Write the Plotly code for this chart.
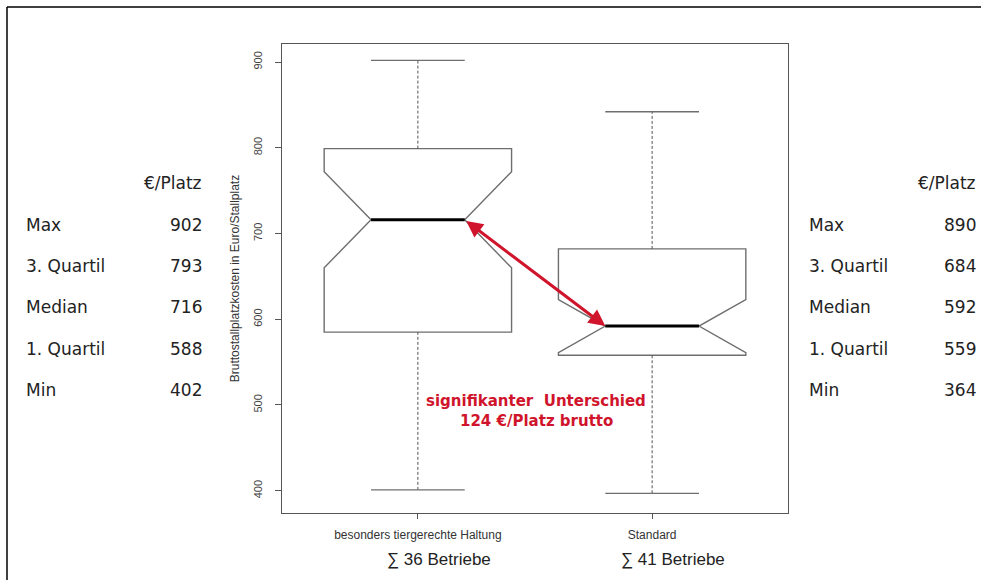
import plotly.graph_objects as go

# ---- data ----
groups = ["besonders tiergerechte Haltung", "Standard"]
group_pos = [1, 2]
n_betriebe = [36, 41]
lower_whisker = [401, 397]
q1 = [585, 558]
median = [716, 592]
q3 = [799, 682]
upper_whisker = [902, 842]
notch_span = [56, 31]

table_labels = ["Max", "3. Quartil", "Median", "1. Quartil", "Min"]
table_left = [902, 793, 716, 588, 402]
table_right = [890, 684, 592, 559, 364]
y_ticks = [400, 500, 600, 700, 800, 900]

BOX_W = 0.8
NOTCH_W = 0.25
CAP_HALF = BOX_W / 2 * (1 - 2 * NOTCH_W)
BOX_COLOR = "#6e6e6e"
RED = "#d0142c"

fig = go.Figure()

# boxes (hinges only; whiskers drawn dashed separately)
fig.add_trace(go.Box(
    x=group_pos, q1=q1, median=median, q3=q3,
    lowerfence=q1, upperfence=q3, notchspan=notch_span,
    notched=True, notchwidth=NOTCH_W, width=BOX_W,
    whiskerwidth=0, boxpoints=False,
    fillcolor="rgba(255,255,255,0)",
    line=dict(color=BOX_COLOR, width=1.4),
    showlegend=False, hoverinfo="skip",
))

# whiskers (dashed) and caps
wx, wy, cx, cy, mx, my = [], [], [], [], [], []
for p, lo, a, b, hi, m in zip(group_pos, lower_whisker, q1, q3, upper_whisker, median):
    wx += [p, p, None, p, p, None]
    wy += [b, hi, None, lo, a, None]
    cx += [p - CAP_HALF, p + CAP_HALF, None, p - CAP_HALF, p + CAP_HALF, None]
    cy += [hi, hi, None, lo, lo, None]
    mx += [p - CAP_HALF, p + CAP_HALF, None]
    my += [m, m, None]
fig.add_trace(go.Scatter(x=wx, y=wy, mode="lines",
                         line=dict(color="#555555", width=1, dash="3px,2px"),
                         showlegend=False, hoverinfo="skip"))
fig.add_trace(go.Scatter(x=cx, y=cy, mode="lines",
                         line=dict(color=BOX_COLOR, width=1.3),
                         showlegend=False, hoverinfo="skip"))
fig.add_trace(go.Scatter(x=mx, y=my, mode="lines",
                         line=dict(color="#000000", width=3),
                         showlegend=False, hoverinfo="skip"))

# double arrow between medians
fig.add_annotation(x=group_pos[1] - CAP_HALF, y=median[1],
                   ax=group_pos[0] + CAP_HALF, ay=median[0],
                   xref="x", yref="y", axref="x", ayref="y",
                   text="", showarrow=True, arrowside="end+start",
                   arrowhead=2, startarrowhead=2, arrowsize=1.1, startarrowsize=1.1,
                   arrowwidth=3, arrowcolor=RED, standoff=0, startstandoff=0)

fig.add_annotation(x=1.505, y=505, xref="x", yref="y", showarrow=False,
                   text="<b>signifikanter  Unterschied</b>",
                   font=dict(family="DejaVu Sans", size=15, color=RED))
fig.add_annotation(x=1.505, y=481, xref="x", yref="y", showarrow=False,
                   text="<b>124 €/Platz brutto</b>",
                   font=dict(family="DejaVu Sans", size=15, color=RED))

# tables / positions helpers
PL, PT, PW, PH = 282, 44, 506, 469
def px(x):
    return (x - PL) / PW
def py(y):
    return (PT + PH - y) / PH

# Sum labels under axis
for p, n in zip(group_pos, n_betriebe):
    fig.add_annotation(x=p + 0.09, y=py(559), xref="x", yref="paper", showarrow=False,
                       yanchor="middle", text=f"∑ {n} Betriebe",
                       font=dict(family="Liberation Sans", size=17, color="#222222"))

row_y = [225, 266, 307, 349, 390]
tfont = dict(family="DejaVu Sans", size=17, color="#222222")
def tab(x, y, text, anchor):
    fig.add_annotation(x=px(x), y=py(y), xref="paper", yref="paper", showarrow=False,
                       xanchor=anchor, yanchor="middle", text=text, font=tfont)

tab(204, 183, "€/Platz", "right")
tab(978, 183, "€/Platz", "right")
for lab, vl, vr, yy in zip(table_labels, table_left, table_right, row_y):
    tab(24, yy, lab, "left")
    tab(204, yy, str(vl), "right")
    tab(807, yy, lab, "left")
    tab(978, yy, str(vr), "right")

# outer frame (left and top)
fig.add_shape(type="line", xref="paper", yref="paper",
              x0=px(7), x1=px(7), y0=py(600), y1=py(7),
              line=dict(color="#000000", width=1.5))
fig.add_shape(type="line", xref="paper", yref="paper",
              x0=px(7), x1=px(1000), y0=py(7), y1=py(7),
              line=dict(color="#000000", width=1.5))

fig.update_layout(
    width=981, height=580,
    margin=dict(l=PL, r=981 - PL - PW, t=PT, b=580 - PT - PH),
    paper_bgcolor="white", plot_bgcolor="white",
    showlegend=False,
)
fig.update_xaxes(
    range=[0.42, 2.58], tickvals=group_pos, ticktext=groups,
    showline=True, mirror=True, linecolor="#555555", linewidth=1.3,
    ticks="outside", ticklen=5, tickcolor="#555555", ticklabelstandoff=5,
    tickfont=dict(family="Liberation Sans", size=12, color="#333333"),
    showgrid=False, zeroline=False,
)
fig.update_yaxes(
    range=[374, 921], tickvals=y_ticks,
    showline=True, mirror=True, linecolor="#555555", linewidth=1.3,
    ticks="outside", ticklen=6, tickcolor="#555555", tickangle=-90, ticklabelstandoff=8,
    tickfont=dict(family="Liberation Sans", size=11, color="#444444"),
    title=dict(text="Bruttostallplatzkosten in Euro/Stallplatz", standoff=10,
               font=dict(family="Liberation Sans", size=12, color="#333333")),
    showgrid=False, zeroline=False,
)

fig.write_html("out.html")
